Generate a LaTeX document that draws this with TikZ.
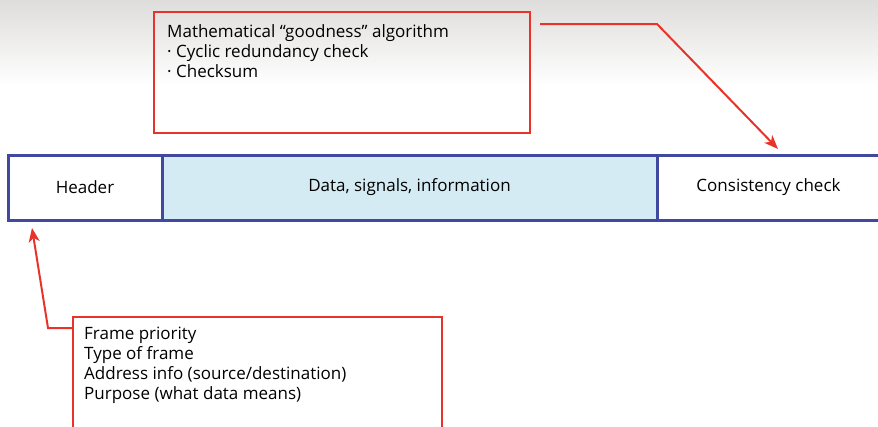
\documentclass[tikz,border=0pt]{standalone}
\usepackage{fontspec}
\setmainfont{Open Sans}
\usetikzlibrary{arrows.meta,calc}
\definecolor{barblue}{HTML}{4048A0}
\definecolor{datafill}{HTML}{D4EBF4}
\definecolor{redline}{HTML}{E8332A}
\definecolor{topgrey}{HTML}{DEDDDB}
\begin{document}
\begin{tikzpicture}[x=1pt,y=-1pt,
  cell/.style={draw=barblue, line width=3pt, minimum height=65pt, anchor=north west, inner sep=0pt, outer sep=0pt, font=\fontsize{17}{20}\selectfont},
  callout/.style={draw=redline, line width=2.5pt, fill=none, anchor=north west, inner sep=0pt, outer sep=0pt},
  calltext/.style={anchor=north west, align=left, inner sep=0pt, font=\fontsize{17}{20}\selectfont},
  conn/.style={draw=redline, line width=2pt, -{Stealth[length=14pt,width=11pt,inset=4pt]}}]
\useasboundingbox (0,0) rectangle (878,426);
\clip (0,0) rectangle (878,426);
\shade[top color=topgrey, bottom color=white] (0,0) rectangle (878,86);
% frame bar
\node[cell, minimum width=154pt] (header) at (8,155) {Header};
\node[cell, minimum width=495pt, fill=datafill] (data) at (header.north east) {Data, signals, information};
\node[cell, minimum width=223pt] (check) at (data.north east) {Consistency check};
% top callout
\node[callout, minimum width=376pt, minimum height=121pt] (algo) at (154,12) {};
\node[calltext] (algotext) at ($(algo.north west)+(13,12)$) {Mathematical “goodness” algorithm\\· Cyclic redundancy check\\· Checksum};
\coordinate (a1s) at ($(algo.north east)+(10,12)$);
\coordinate (a1b) at ($(data.north east)+(0,-131)$);
\coordinate (a1e) at ($(check.north west)+(121,-6)$);
\draw[conn] (a1s) -- (a1b) -- (a1e);
% bottom callout
\node[callout, minimum width=369pt, minimum height=130pt] (hdrinfo) at (73,317) {};
\node[calltext] (hdrtext) at ($(hdrinfo.north west)+(11,10)$) {Frame priority\\Type of frame\\Address info (source/destination)\\Purpose (what data means)};
\coordinate (a2s) at ($(hdrinfo.north west)+(0,11)$);
\coordinate (a2b) at ($(hdrinfo.north west)+(-25,11)$);
\coordinate (a2e) at ($(header.south west)+(24,8)$);
\draw[conn] (a2s) -- (a2b) -- (a2e);
\end{tikzpicture}
\end{document}
